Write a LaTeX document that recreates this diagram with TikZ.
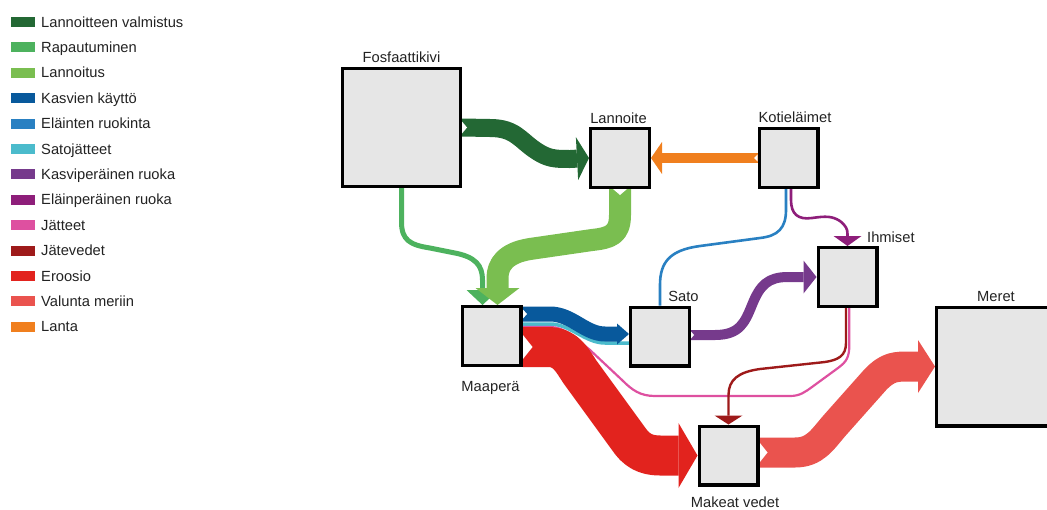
\documentclass[tikz,border=0pt]{standalone}
\usepackage{fontspec}
\setmainfont{Liberation Sans}
\usetikzlibrary{arrows.meta,calc}

% flow colours
\definecolor{lv}{RGB}{35,104,52}     % Lannoitteen valmistus
\definecolor{rap}{RGB}{77,178,94}    % Rapautuminen
\definecolor{lnt}{RGB}{122,190,80}   % Lannoitus
\definecolor{kk}{RGB}{8,89,156}      % Kasvien käyttö
\definecolor{elr}{RGB}{41,128,194}   % Eläinten ruokinta
\definecolor{sj}{RGB}{75,187,204}    % Satojätteet
\definecolor{kr}{RGB}{118,58,140}    % Kasviperäinen ruoka
\definecolor{epr}{RGB}{142,30,122}   % Eläinperäinen ruoka
\definecolor{jat}{RGB}{222,80,160}   % Jätteet
\definecolor{jv}{RGB}{158,26,26}     % Jätevedet
\definecolor{ero}{RGB}{226,35,30}    % Eroosio
\definecolor{val}{RGB}{234,83,78}    % Valunta meriin
\definecolor{lanta}{RGB}{240,127,30} % Lanta
\definecolor{boxgrey}{RGB}{230,230,230}
\definecolor{txt}{RGB}{34,34,34}

\pgfdeclarelayer{flows}
\pgfsetlayers{flows,main}

\begin{document}
\begin{tikzpicture}[x=1pt,y=-1pt,
  box/.style={draw=black, line width=3.2pt, fill=boxgrey, inner sep=0pt, minimum size=58.8pt},
  lab/.style={font=\fontsize{14.7pt}{17pt}\selectfont, text=txt, inner sep=0pt},
  flow/.style={line cap=butt, line join=round},
  head/.style 2 args={-{Triangle[length=#1,width=#2,line width=0pt]}},
  pics/notchh/.style 2 args={code={\fill[white] (0,-#1) -- (#2,0) -- (0,#1) -- cycle;}},
  pics/notchv/.style 2 args={code={\fill[white] (-#1,0) -- (0,#2) -- (#1,0) -- cycle;}}
]
\useasboundingbox (0,0) rectangle (1047,509);
\clip (0,0) rectangle (1047,509);

% ---------- legend ----------
\foreach \nm/\col [count=\i from 0] in {Lannoitteen valmistus/lv, Rapautuminen/rap,
    Lannoitus/lnt, Kasvien käyttö/kk, Eläinten ruokinta/elr, Satojätteet/sj,
    Kasviperäinen ruoka/kr, Eläinperäinen ruoka/epr, Jätteet/jat, Jätevedet/jv,
    Eroosio/ero, Valunta meriin/val, Lanta/lanta} {
  \fill[\col] (11,{17+25.4*\i}) rectangle (35,{27+25.4*\i});
  \node[lab, anchor=base west] (leg\i) at (41,{27+25.4*\i}) {\nm};
}

% ---------- stocks ----------
\node[box, minimum size=117.8pt] (fos) at (401.5,127.5) {};
\node[box] (lan)  at (620,158) {};
\node[box] (kot)  at (788.5,158) {};
\node[box] (ihm)  at (847.5,277) {};
\node[box] (sato) at (660,336.5) {};
\node[box] (maa)  at (491.5,336) {};
\node[box] (mak)  at (728.5,455.5) {};
\node[box, minimum size=118.8pt] (mer) at (996,366.5) {};

\node[lab, anchor=base] (fosL)  at (401.5,62) {Fosfaattikivi};
\node[lab, anchor=base] (lanL)  at (618.5,123) {Lannoite};
\node[lab, anchor=base] (kotL)  at (795,122) {Kotieläimet};
\node[lab, anchor=base west] (ihmL) at (867,242) {Ihmiset};
\node[lab, anchor=base] (satoL) at (683.5,301) {Sato};
\node[lab, anchor=base] (maaL)  at (490.5,391) {Maaperä};
\node[lab, anchor=base] (makL)  at (735,507) {Makeat vedet};
\node[lab, anchor=base] (merL)  at (996,301) {Meret};

% ---------- flows ----------
\begin{pgfonlayer}{flows}
% Lannoitteen valmistus
\draw[flow, lv, line width=18pt, head={12pt}{43pt}]
  (fos.east) -- (490,128) .. controls (515,128) and (520,140) .. (535,150)
  .. controls (548,159) and (555,159) .. (570,159) -- (lan.west);
% Rapautuminen
\draw[flow, rap, line width=5pt, head={15pt}{32pt}]
  (fos.south) -- (401.5,222) .. controls (401.5,240) and (410,245) .. (430,248)
  -- (455,253) .. controls (475,257) and (482.5,265) .. (482.5,280)
  -- ($(maa.north)+(-9,0)$);
% Lannoitus
\draw[flow, lnt, line width=22pt, head={17pt}{44pt}]
  (lan.south) -- (620,215) .. controls (620,235) and (610,238) .. (592,240)
  -- (530,249) .. controls (505,253) and (497.5,265) .. (497.5,278)
  -- ($(maa.north)+(6,0)$);
% Lanta
\draw[flow, lanta, line width=10pt, head={11pt}{32pt}] (kot.west) -- (lan.east);
% Eläinten ruokinta
\draw[flow, elr, line width=2.6pt]
  ($(kot.south)+(-2.5,0)$) -- (786,210) .. controls (786,228) and (778,236) .. (760,238)
  -- (700,246) .. controls (670,250) and (660,262) .. (660,285) -- (sato.north);
% Eläinperäinen ruoka
\draw[flow, epr, line width=2.6pt, head={10pt}{28pt}]
  ($(kot.south)+(2.5,0)$) -- (791,200) .. controls (791,214) and (798,220) .. (812,218)
  .. controls (826,216) and (832,216) .. (840,221)
  .. controls (846,226) and (847.5,229) .. (847.5,234) -- (ihm.north);
% Satojätteet
\draw[flow, sj, line width=3.5pt]
  (sato.west |- 0,343) -- (605,343) .. controls (585,343) and (570,324) .. (550,324)
  -- ($(maa.east)+(0,-12)$);
% Kasvien käyttö
\draw[flow, kk, line width=15pt, head={12pt}{21pt}]
  ($(maa.east)+(0,-22)$) -- (550,314) .. controls (572,314) and (585,334) .. (605,334)
  -- ($(sato.west)+(0,-2.5)$);
% Jätteet
\draw[flow, jat, line width=2.2pt]
  ($(ihm.south)+(1.8,0)$) -- (849.3,345) .. controls (849.3,358) and (846,362) .. (838,368)
  -- (812,387) .. controls (805,392) and (800,396) .. (790,396)
  -- (655,396) .. controls (640,396) and (632,390) .. (622,380)
  -- (590,350) .. controls (575,338) and (565,327) .. (550,327)
  -- ($(maa.east)+(0,-9)$);
% Jätevedet
\draw[flow, jv, line width=2.4pt, head={9pt}{28pt}]
  ($(ihm.south)+(-1.5,0)$) -- (846,343) .. controls (846,356) and (838,360) .. (825,362)
  -- (760,369) .. controls (738,372) and (728.5,380) .. (728.5,395) -- (mak.north);
% Kasviperäinen ruoka
\draw[flow, kr, line width=10pt, head={13pt}{33pt}]
  ($(sato.east)+(0,-1.5)$) -- (715,335) .. controls (740,335) and (745,322) .. (752,305)
  .. controls (760,285) and (768,277) .. (788,277) -- (ihm.west);
% Eroosio
\draw[flow, ero, line width=40pt, head={19pt}{65pt}]
  ($(maa.east)+(0,11)$) -- (548,347) .. controls (566,347) and (572,360) .. (580,372)
  -- (628,438) .. controls (636,450) and (645,455.5) .. (660,455.5) -- (mak.west);
% Valunta meriin
\draw[flow, val, line width=30pt, head={17pt}{53pt}]
  ($(mak.east)+(0,-3)$) -- (795,452.5) .. controls (815,452.5) and (822,440) .. (835,425)
  -- (875,380) .. controls (888,366.5) and (895,366.5) .. (910,366.5) -- (mer.west);

% notches where the wide flows leave their stocks
\pic at (fos.east) {notchh={6}{5}};
\pic at (lan.south) {notchv={7}{6}};
\pic at (kot.west) {notchh={3.5}{-3.5}};
\pic at ($(maa.east)+(0,-22)$) {notchh={5}{4.5}};
\pic at ($(maa.east)+(0,11)$) {notchh={12.5}{10}};
\pic at ($(sato.east)+(0,-1.5)$) {notchh={3.5}{3}};
\pic at ($(mak.east)+(0,-3)$) {notchh={10}{8}};
\end{pgfonlayer}
\end{tikzpicture}
\end{document}
